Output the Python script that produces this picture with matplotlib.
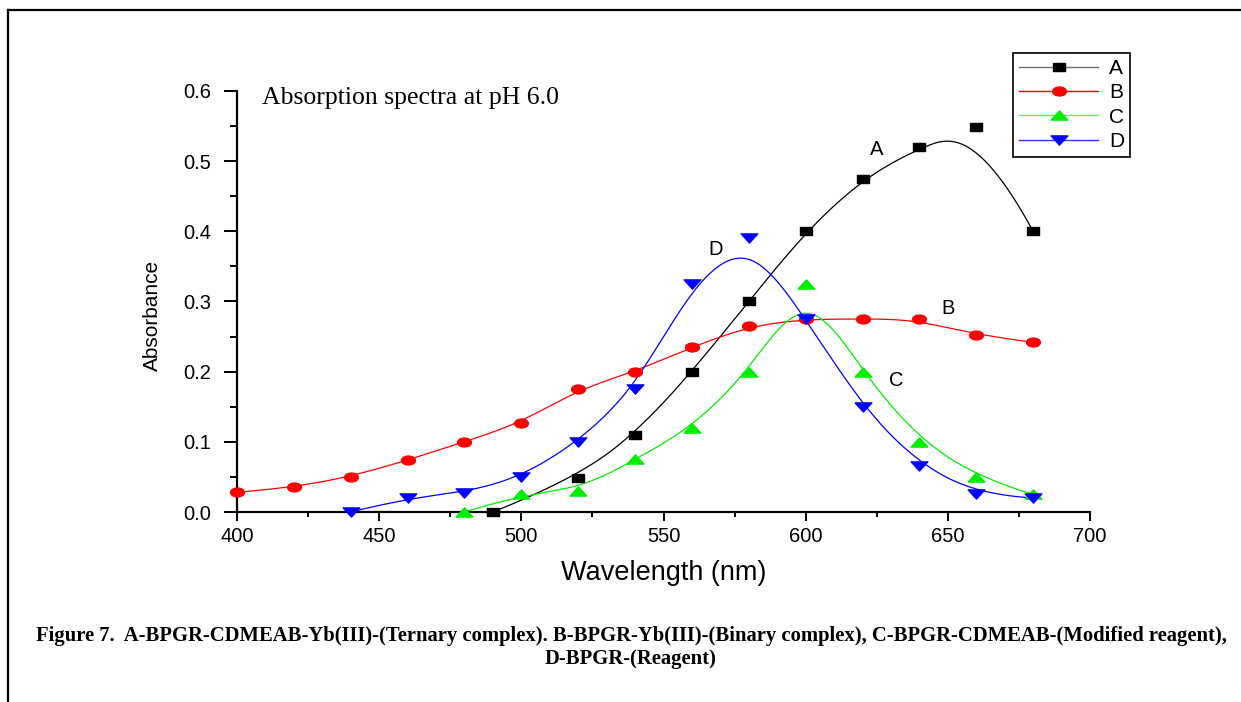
import numpy as np
import matplotlib
matplotlib.use("Agg")
import matplotlib.pyplot as plt
from matplotlib.path import Path
from matplotlib.lines import Line2D
from matplotlib.ticker import MultipleLocator, FormatStrFormatter

# ---------------- data ----------------
wl_A = [490, 520, 540, 560, 580, 600, 620, 640, 660, 680]
abs_A = [0.000, 0.049, 0.110, 0.200, 0.300, 0.400, 0.475, 0.520, 0.549, 0.400]

wl_B = [400, 420, 440, 460, 480, 500, 520, 540, 560, 580, 600, 620, 640, 660, 680]
abs_B = [0.028, 0.035, 0.050, 0.074, 0.100, 0.127, 0.175, 0.200, 0.235, 0.265,
         0.275, 0.275, 0.275, 0.252, 0.242]

wl_C = [480, 500, 520, 540, 560, 580, 600, 620, 640, 660, 680]
abs_C = [0.000, 0.025, 0.030, 0.075, 0.120, 0.200, 0.325, 0.200, 0.100, 0.050, 0.025]

wl_D = [440, 460, 480, 500, 520, 540, 560, 580, 600, 620, 640, 660, 680]
abs_D = [0.000, 0.020, 0.027, 0.050, 0.100, 0.175, 0.325, 0.390, 0.275, 0.150,
         0.065, 0.025, 0.020]

series_labels = ["A", "B", "C", "D"]
x_ticks = [400, 450, 500, 550, 600, 650, 700]
y_ticks = [0.0, 0.1, 0.2, 0.3, 0.4, 0.5, 0.6]

title_text = "Absorption spectra at pH 6.0"
xlabel_text = "Wavelength (nm)"
ylabel_text = "Absorbance"
caption_1 = ("Figure 7.  A-BPGR-CDMEAB-Yb(III)-(Ternary complex). B-BPGR-Yb(III)-(Binary complex), "
             "C-BPGR-CDMEAB-(Modified reagent),")
caption_2 = "D-BPGR-(Reagent)"


# ------------- clamped cubic B-spline (Origin "B-spline" line) -------------
def bspline(xs, ys, k=3, n=400):
    P = np.column_stack([xs, ys]).astype(float)
    m = len(P)
    knots = np.concatenate([np.zeros(k), np.linspace(0, 1, m - k + 1), np.ones(k)])
    t = np.linspace(0, 1, n)
    N = np.zeros((n, len(knots) - 1))
    for i in range(len(knots) - 1):
        N[:, i] = (t >= knots[i]) & (t < knots[i + 1])
    last = max(i for i in range(len(knots) - 1) if knots[i] < knots[i + 1])
    N[t >= 1.0, last] = 1.0
    for d in range(1, k + 1):
        Nn = np.zeros((n, len(knots) - 1 - d))
        for i in range(len(knots) - 1 - d):
            a = knots[i + d] - knots[i]
            b = knots[i + d + 1] - knots[i + 1]
            term = np.zeros(n)
            if a > 0:
                term += (t - knots[i]) / a * N[:, i]
            if b > 0:
                term += (knots[i + d + 1] - t) / b * N[:, i + 1]
            Nn[:, i] = term
        N = Nn
    C = N @ P
    return C[:, 0], C[:, 1]


# ---------------- custom (horizontally stretched) markers ----------------
m_rect = Path([(-1, -0.63), (1, -0.63), (1, 0.63), (-1, 0.63), (-1, -0.63)], closed=True)
uc = Path.unit_circle()
m_ell = Path(uc.vertices * np.array([1.0, 0.64]), uc.codes)
m_tup = Path([(-1, -0.55), (1, -0.55), (0, 0.55), (-1, -0.55)], closed=True)
m_tdn = Path([(-1, 0.55), (1, 0.55), (0, -0.55), (-1, 0.55)], closed=True)

styles = [
    dict(color="black", marker=m_rect, ms=9.1, legend_line="#707070"),
    dict(color="#ff0000", marker=m_ell, ms=10.0, legend_line="#ff0000"),
    dict(color="#00ee00", marker=m_tup, ms=12.0, legend_line="#66ee66"),
    dict(color="#0000ff", marker=m_tdn, ms=12.0, legend_line="#3333ff"),
]
data = [(wl_A, abs_A), (wl_B, abs_B), (wl_C, abs_C), (wl_D, abs_D)]

sans = ["Liberation Sans", "DejaVu Sans"]
serif = ["Liberation Serif", "DejaVu Serif"]

W, H = 1241, 702
fig = plt.figure(figsize=(W / 100, H / 100), dpi=100)
fig.patch.set_facecolor("white")
ax = fig.add_axes([237 / W, 190 / H, 853 / W, 421 / H])

for (xs, ys), st in zip(data, styles):
    cx, cy = bspline(xs, ys)
    ax.plot(cx, cy, color=st["color"], lw=0.9, zorder=2, clip_on=False)
    ax.plot(xs, ys, linestyle="none", marker=st["marker"], ms=st["ms"],
            color=st["color"], mec=st["color"], zorder=3, clip_on=False)

ax.set_xlim(400, 700)
ax.set_ylim(0, 0.6)
for s in ["top", "right"]:
    ax.spines[s].set_visible(False)
for s in ["left", "bottom"]:
    ax.spines[s].set_linewidth(1.6)

ax.xaxis.set_major_locator(MultipleLocator(50))
ax.xaxis.set_minor_locator(MultipleLocator(25))
ax.yaxis.set_major_locator(MultipleLocator(0.1))
ax.yaxis.set_minor_locator(MultipleLocator(0.05))
ax.yaxis.set_major_formatter(FormatStrFormatter("%.1f"))
ax.set_xticks(x_ticks)
ax.set_yticks(y_ticks)
ax.tick_params(axis="x", which="major", direction="out", length=6.5, width=1.4, pad=4.5)
ax.tick_params(axis="x", which="minor", direction="out", length=3.5, width=1.4)
ax.tick_params(axis="y", which="major", direction="out", length=9.5, width=1.4, pad=9)
ax.tick_params(axis="y", which="minor", direction="out", length=5, width=1.4)
for lab in ax.get_xticklabels() + ax.get_yticklabels():
    lab.set_fontfamily(sans)
    lab.set_fontsize(14.5)

ax.set_xlabel(xlabel_text, fontsize=19.5, family=sans, labelpad=10)
fig.text(152 / W, 1 - 315 / H, ylabel_text, rotation=90, fontsize=15,
         family=sans, ha="center", va="center")

ax.text(262 / W, 1 - 98 / H, title_text, transform=fig.transFigure, fontsize=18.5,
        family=serif, ha="left", va="center")

# curve annotations
ann = [("A", 625.0, 0.517), ("B", 650.0, 0.290), ("C", 632.0, 0.188), ("D", 568.5, 0.374)]
for lab, xv, yv in ann:
    ax.text(xv, yv, lab, fontsize=14.5, family=sans, ha="center", va="center")

# legend
handles = [Line2D([0], [0], color=st["legend_line"], lw=1.0, marker=st["marker"],
                  ms=st["ms"], mfc=st["color"], mec=st["color"]) for st in styles]
leg = fig.legend(handles, series_labels, loc="upper left",
                 bbox_to_anchor=(1013 / W, 1 - 53 / H), bbox_transform=fig.transFigure,
                 prop={"family": sans, "size": 15}, frameon=True, fancybox=False,
                 edgecolor="black", framealpha=1, handlelength=3.8, handletextpad=0.5,
                 labelspacing=0.25, borderpad=0.3, borderaxespad=0, numpoints=1)
leg.get_frame().set_linewidth(1.2)

# caption
fig.text(631 / W, 1 - 636 / H, caption_1, fontsize=14.9, family=serif,
         fontweight="bold", ha="center", va="center")
fig.text(631 / W, 1 - 659 / H, caption_2, fontsize=14.9, family=serif,
         fontweight="bold", ha="center", va="center")

# outer frame (top and left edges visible)
fig.add_artist(Line2D([8 / W, 1.0], [1 - 10 / H, 1 - 10 / H], transform=fig.transFigure,
                      color="black", lw=1.6))
fig.add_artist(Line2D([8 / W, 8 / W], [0.0, 1 - 10 / H], transform=fig.transFigure,
                      color="black", lw=1.6))

fig.savefig("out.png", dpi=100)
